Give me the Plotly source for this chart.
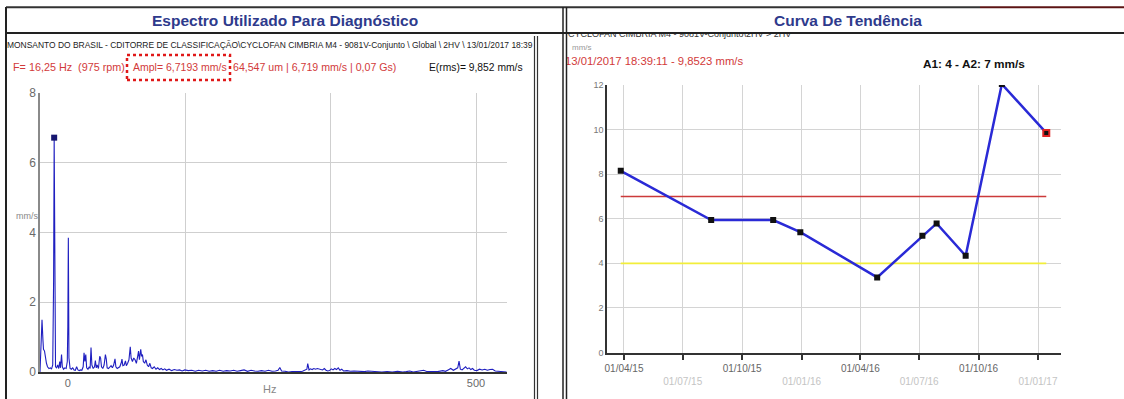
import plotly.graph_objects as go

W, H = 1124, 399

# ---------------- data ----------------
# Spectrum (Hz, mm/s)
SPEC_HZ = [
    0, 1.2, 2.3, 3.4, 4.0, 5.2, 6.3, 7.4, 8.6, 10.3,
    12.0, 13.2, 14.6, 15.6, 16.25, 17.0, 17.8, 19.0, 20.2, 21.5,
    22.6, 23.5, 24.7, 25.6, 27.0, 28.5, 30.0, 31.3, 31.9, 32.5,
    33.2, 34.5, 36.0, 37.5, 39.0, 40.5, 42.0, 43.5, 45.0, 46.5,
    48.0, 49.5, 50.5, 51.5, 52.5, 53.5, 55.0, 56.5, 57.5, 58.5,
    59.5, 61.0, 62.5, 63.5, 64.5, 65.5, 67.0, 68.5, 69.5, 70.5,
    72.0, 73.5, 75.0, 76.0, 77.0, 78.5, 80.0, 81.5, 83.0, 84.5,
    86.0, 87.0, 88.5, 90.0, 91.5, 93.0, 94.0, 95.0, 96.5, 98.0,
    99.0, 100.5, 102.0, 103.5, 104.5, 106.0, 107.5, 109.0, 110.5, 112.0,
    113.0, 114.0, 115.5, 116.5, 117.5, 118.5, 120.0, 121.5, 123.0, 124.5,
    126.0, 127.5, 129.0, 131.0, 133.0, 135.0, 137.0, 139.0, 141.0, 143.0,
    145.0, 148.0, 151.0, 154.0, 157.0, 160.0, 163.0, 166.0, 170.0, 174.0,
    178, 182, 186, 190, 194, 198, 202, 206, 210, 214,
    218, 222, 226, 230, 234, 238, 242, 246, 250, 254,
    258, 262, 266, 270, 273, 275, 277, 281, 285, 289,
    293, 297, 301, 304, 306, 307, 308.5, 310, 312, 314,
    316, 318, 320, 322, 324, 326, 328, 330, 332, 334,
    336, 338, 340, 342, 344, 346, 348, 352, 356, 360,
    364, 368, 372, 376, 380, 386, 392, 398, 404, 410,
    416, 420, 424, 428, 432, 436, 440, 444, 450, 456,
    462, 465, 468, 471, 474, 477, 479, 480.5, 482, 484,
    486, 488, 490, 492, 494, 496, 498, 501, 504, 507,
    510, 513, 516, 519, 522, 526, 530, 535,
]
SPEC_AMP = [
    0, 0.9, 1.5, 0.9, 0.65, 0.6, 0.4, 0.25, 0.15, 0.1,
    0.12, 0.08, 0.2, 2.6, 6.72, 0.5, 0.15, 0.12, 0.2, 0.1,
    0.3, 0.12, 0.5, 0.15, 0.08, 0.12, 0.1, 0.3, 1.3, 3.85,
    0.4, 0.1, 0.08, 0.12, 0.06, 0.05, 0.15, 0.06, 0.04, 0.06,
    0.05, 0.15, 0.55, 0.3, 0.5, 0.12, 0.08, 0.15, 0.1, 0.7,
    0.2, 0.1, 0.15, 0.33, 0.12, 0.2, 0.1, 0.45, 0.4, 0.15,
    0.1, 0.2, 0.5, 0.37, 0.12, 0.1, 0.15, 0.18, 0.12, 0.2,
    0.38, 0.15, 0.1, 0.12, 0.15, 0.25, 0.37, 0.18, 0.2, 0.32,
    0.18, 0.25, 0.35, 0.72, 0.4, 0.3, 0.4, 0.35, 0.25, 0.45,
    0.6, 0.35, 0.65, 0.45, 0.5, 0.3, 0.25, 0.35, 0.2, 0.15,
    0.25, 0.12, 0.1, 0.15, 0.08, 0.12, 0.07, 0.1, 0.06, 0.09,
    0.05, 0.08, 0.04, 0.07, 0.05, 0.06, 0.03, 0.06, 0.04, 0.05,
    0.02, 0.05, 0.03, 0.05, 0.02, 0.04, 0.02, 0.05, 0.02, 0.04,
    0.03, 0.05, 0.02, 0.04, 0.06, 0.02, 0.05, 0.03, 0.02, 0.04,
    0.02, 0.05, 0.02, 0.03, 0.05, 0.13, 0.03, 0.02, 0.0, 0.01,
    0.0, 0.01, 0.02, 0.05, 0.08, 0.24, 0.06, 0.09, 0.07, 0.1,
    0.08, 0.1, 0.09, 0.07, 0.06, 0.1, 0.05, 0.03, 0.04, 0.09,
    0.06, 0.1, 0.07, 0.12, 0.05, 0.08, 0.03, 0.04, 0.02, 0.03,
    0.02, 0.03, 0.01, 0.03, 0.02, 0.01, 0.0, 0.01, 0.0, 0.02,
    0.0, 0.01, 0.03, 0.0, 0.01, 0.03, 0.05, 0.01, 0.0, 0.01,
    0.04, 0.02, 0.06, 0.1, 0.05, 0.08, 0.12, 0.31, 0.08, 0.06,
    0.1, 0.15, 0.09, 0.12, 0.07, 0.1, 0.05, 0.04, 0.08, 0.06,
    0.08, 0.05, 0.07, 0.08, 0.03, 0.02, 0.01, 0.0,
]
CURSOR_HZ = [16.25]
CURSOR_AMP = [6.7193]
SPEC_X_TICKVALS = [32, 500]
SPEC_X_TICKTEXT = ["0", "500"]
SPEC_X_GRID = [166.67, 333.33, 500]
SPEC_Y_TICKS = [0, 2, 4, 6, 8]

# Trend curve
TREND_DATES = ["2015-03-27", "2015-08-14", "2015-11-18", "2015-12-30",
               "2016-04-27", "2016-07-06", "2016-07-28", "2016-09-11",
               "2016-11-06", "2017-01-13 18:39:11"]
TREND_VALUES = [8.15, 5.94, 5.94, 5.40, 3.37, 5.24, 5.79, 4.34, 12.04, 9.8523]
ALARM_A1 = 4
ALARM_A2 = 7
TREND_TICKVALS = ["2015-04-01", "2015-07-01", "2015-10-01", "2016-01-01",
                  "2016-04-01", "2016-07-01", "2016-10-01", "2017-01-01"]
TREND_TICKTEXT = ["01/04/15", "01/07/15", "01/10/15", "01/01/16",
                  "01/04/16", "01/07/16", "01/10/16", "01/01/17"]
TREND_Y_TICKS = [0, 2, 4, 6, 8, 10, 12]

# ---------------- helpers ----------------
def px(x):
    return x / W

def py(y):
    return 1 - y / H

SANS = "Liberation Sans, Arial, sans-serif"

fig = go.Figure()

# spectrum
fig.add_trace(go.Scatter(x=SPEC_HZ, y=SPEC_AMP, mode="lines",
                         line=dict(color="#1f1fc0", width=1.1),
                         xaxis="x", yaxis="y", showlegend=False, hoverinfo="skip"))
fig.add_trace(go.Scatter(x=CURSOR_HZ, y=CURSOR_AMP, mode="markers",
                         marker=dict(symbol="square", size=6, color="#161670"),
                         xaxis="x", yaxis="y", showlegend=False))

# trend alarm lines
first_last = [TREND_DATES[0], TREND_DATES[-1]]
fig.add_trace(go.Scatter(x=first_last, y=[ALARM_A2, ALARM_A2], mode="lines",
                         line=dict(color="#cc3a3a", width=1.6),
                         xaxis="x2", yaxis="y2", showlegend=False))
fig.add_trace(go.Scatter(x=first_last, y=[ALARM_A1, ALARM_A1], mode="lines",
                         line=dict(color="#f2ee3a", width=1.6),
                         xaxis="x2", yaxis="y2", showlegend=False))
n = len(TREND_VALUES)
fig.add_trace(go.Scatter(x=TREND_DATES, y=TREND_VALUES, mode="lines+markers",
                         line=dict(color="#2a2ad6", width=2.5),
                         marker=dict(symbol="square", size=6,
                                     color=["#111111"] * n,
                                     line=dict(color=["#111111"] * (n - 1) + ["#e02424"],
                                               width=[0] * (n - 1) + [2])),
                         xaxis="x2", yaxis="y2", showlegend=False))

# clipped header texts on the right panel (helper axes in pixel units)
fig.add_trace(go.Scatter(
    x=[568, 565], y=[35, 62],
    text=["CYCLOFAN CIMBRIA M4 - 9081V-Conjunto\\2HV > 2HV",
          "13/01/2017 18:39:11 - 9,8523 mm/s"],
    mode="text", textposition="middle right",
    textfont=dict(family=SANS, size=[9, 11.3], color=["#333333", "#d23a3a"]),
    xaxis="x3", yaxis="y3", showlegend=False, cliponaxis=True, hoverinfo="skip"))

tickfont = dict(family=SANS, size=11, color="#6a6a6a")

fig.update_layout(
    width=W, height=H,
    margin=dict(l=0, r=0, t=0, b=0, autoexpand=False),
    paper_bgcolor="white", plot_bgcolor="white",
    showlegend=False,
    xaxis=dict(domain=[px(40), px(507)], range=[0, 535.5], automargin=False,
               tickvals=SPEC_X_TICKVALS, ticktext=SPEC_X_TICKTEXT,
               showgrid=False, zeroline=False,
               showline=True, linecolor="#333333", linewidth=2,
               ticks="", tickfont=tickfont,
               minor=dict(tickvals=SPEC_X_GRID, showgrid=True,
                          gridcolor="#cfcfcf", gridwidth=1, ticks=""),
               anchor="y"),
    yaxis=dict(domain=[py(372), py(93)], range=[0, 8], automargin=False,
               tickvals=SPEC_Y_TICKS, showgrid=True, gridcolor="#cfcfcf",
               zeroline=False, showline=True, linecolor="#8a8a8a", linewidth=1.5,
               ticks="", tickfont=dict(family=SANS, size=12, color="#6a6a6a"),
               anchor="x"),
    xaxis2=dict(domain=[px(607), px(1061)], type="date", automargin=False,
                range=["2015-03-05 17:00", "2017-02-05 14:00"],
                tickvals=TREND_TICKVALS,
                ticktext=[t if i % 2 == 0 else "<br><span style='color:#c4c4c4'>" + t + "</span>"
                          for i, t in enumerate(TREND_TICKTEXT)],
                showgrid=True, gridcolor="#d4d4d4", zeroline=False,
                showline=True, linecolor="#333333", linewidth=2,
                ticks="outside", ticklen=5, tickcolor="#333333", tickwidth=1.5,
                tickangle=0,
                tickfont=dict(family=SANS, size=10, color="#666666"),
                anchor="y2"),
    yaxis2=dict(domain=[py(352.5), py(85)], range=[0, 12], automargin=False,
                tickvals=TREND_Y_TICKS, showgrid=True, gridcolor="#d4d4d4",
                zeroline=False, showline=True, linecolor="#333333", linewidth=1.5,
                ticks="", tickfont=dict(family=SANS, size=9, color="#777777"),
                anchor="x2"),
    xaxis3=dict(domain=[px(567), 1.0], range=[567, W], visible=False,
                automargin=False, anchor="y3"),
    yaxis3=dict(domain=[py(80), py(34)], range=[80, 34], visible=False,
                automargin=False, anchor="x3"),
)

# frames
LINES = [
    (6, 7.3, 980, 7.3, "#333333", 2),
    (980, 7.3, W, 7.3, "#5c1414", 2),
    (6, 33, W, 33, "#222222", 2),
    (6, 7, 6, H, "#222222", 2),
    (563, 7, 563, H, "#222222", 1.5),
    (566.5, 7, 566.5, H, "#222222", 1.5),
    (534.5, 36, 534.5, H, "#333333", 1.2),
    (537.5, 36, 537.5, H, "#333333", 1.2),
]
for x0, y0, x1, y1, c, w in LINES:
    fig.add_shape(type="line", xref="paper", yref="paper",
                  x0=px(x0), y0=py(y0), x1=px(x1), y1=py(y1),
                  line=dict(color=c, width=w))
fig.add_shape(type="rect", xref="paper", yref="paper",
              x0=px(127), x1=px(230), y0=py(80), y1=py(55),
              line=dict(color="#e01818", width=2.5, dash="dot"))

def ann(text, x, y, size, color, family=SANS, xanchor="left"):
    fig.add_annotation(text=text, x=px(x), y=py(y), xref="paper", yref="paper",
                       xanchor=xanchor, yanchor="middle", showarrow=False,
                       borderpad=0, font=dict(family=family, size=size, color=color))

ann("<b>Espectro Utilizado Para Diagnóstico</b>", 285, 20, 15.5, "#2e3a8c", SANS, "center")
ann("<b>Curva De Tendência</b>", 848, 20, 15.5, "#2e3a8c", SANS, "center")
ann("MONSANTO DO BRASIL - CDITORRE DE CLASSIFICAÇÃO\\CYCLOFAN CIMBRIA M4 - 9081V-Conjunto \\ Global \\ 2HV \\ 13/01/2017 18:39",
    6, 45, 8.45, "#222222")
ann("F= 16,25 Hz  (975 rpm)", 12, 67, 10.8, "#d23a3a")
ann("Ampl= 6,7193 mm/s", 132, 67, 10.5, "#d23a3a")
ann("64,547 um | 6,719 mm/s | 0,07 Gs)", 232, 67, 10.6, "#d23a3a")
ann("E(rms)= 9,852 mm/s", 428, 67, 10.3, "#111111")
ann("Hz", 269, 389, 11, "#888888", xanchor="center")
ann("mm/s", 27, 216, 9, "#888888", xanchor="center")
ann("mm/s", 571, 47, 8, "#999999")
ann("<b>A1: 4 - A2: 7 mm/s</b>", 922, 64, 11.8, "#111111")

fig.write_html("out.html",
               config={"displayModeBar": False},
               post_script="document.body.style.margin='0px';document.body.style.overflow='hidden';")
